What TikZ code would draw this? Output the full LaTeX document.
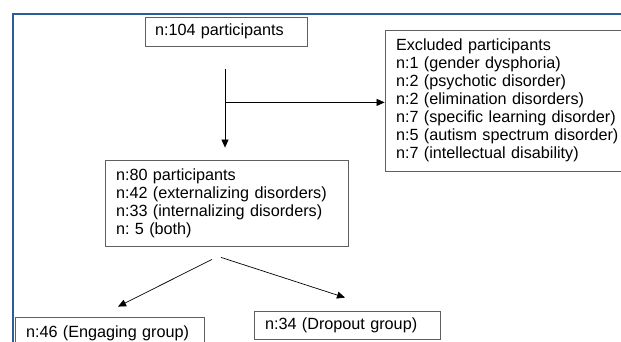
\documentclass[tikz,border=0pt]{standalone}
\usepackage{fontspec}
\setmainfont{Liberation Sans}
\usetikzlibrary{arrows.meta,calc}
\definecolor{frameblue}{RGB}{46,92,154}
\definecolor{boxgray}{RGB}{95,95,95}
\frenchspacing

\begin{document}
\begin{tikzpicture}[x = 1pt, y = -1pt, >= {Triangle[length=8pt, width=7pt]},
    box/.style = {draw = boxgray, line width = 0.8pt, align = left, inner ysep = 0pt,
                  font = \fontsize{16.2}{17.9}\selectfont},
    link/.style = {->, line width = 0.7pt, black}]
    \useasboundingbox (0, 0) rectangle (621, 342);

    % frame
    \draw [frameblue, line width = 1.6pt] (13, 342) -- (13, 14) -- (621, 14);

    % boxes
    \node [box, inner xsep = 10pt, text width = 142pt, minimum height = 29pt] (total) at (226, 31.5) {n:104 participants};
    \node [box, inner xsep = 11pt, text width = 250pt, minimum height = 141pt] (excluded) at (521, 100.5)
        {Excluded participants\\ n:1 (gender dysphoria)\\ n:2 (psychotic disorder)\\ n:2 (elimination disorders)\\
         n:7 (specific learning disorder)\\ n:5 (autism spectrum disorder)\\ n:7 (intellectual disability)};
    \node [box, inner xsep = 11pt, text width = 221pt, minimum height = 86pt] (included) at (226.5, 203)
        {n:80 participants\\ n:42 (externalizing disorders)\\ n:33 (internalizing disorders)\\ n: 5 (both)};
    \node [box, inner xsep = 11pt, text width = 167pt, minimum height = 32pt] (engaging) at (109.5, 333) {n:46 (Engaging group)};
    \node [box, inner xsep = 11pt, text width = 164pt, minimum height = 28pt] (dropout) at (347, 325) {n:34 (Dropout group)};

    % arrows
    \coordinate (start) at ($(total.south) + (-1, 23)$);
    \coordinate (split) at ($(total.south) + (-1, 56)$);
    \draw [link] (start) -- ($(start |- included.north) + (0, -12)$);
    \draw [link] (split) -- (split -| excluded.west);
    \draw [link] ($(included.south) + (-14.5, 13)$) -- ($(engaging.north) + (8.5, -10)$);
    \draw [link] ($(included.south) + (-5.5, 11)$) -- ($(dropout.north) + (-2, -13)$);
\end{tikzpicture}
\end{document}
